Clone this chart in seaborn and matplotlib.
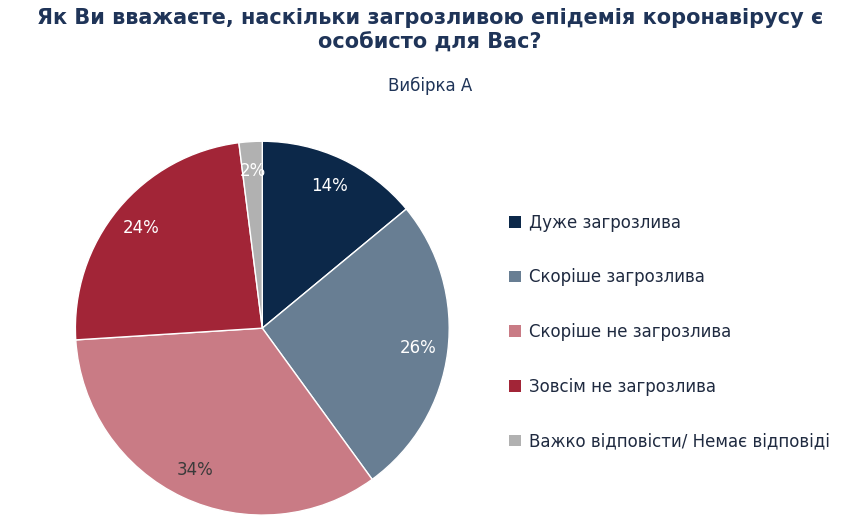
import matplotlib
matplotlib.use("Agg")
import matplotlib.pyplot as plt
import seaborn as sns
from matplotlib.patches import Patch

categories = ["Дуже загрозлива", "Скоріше загрозлива", "Скоріше не загрозлива",
              "Зовсім не загрозлива", "Важко відповісти/ Немає відповіді"]
values = [14, 26, 34, 24, 2]
labels = ["14%", "26%", "34%", "24%", "2%"]
colors = sns.color_palette(["#0c2849", "#687e93", "#c97b85", "#a22537", "#b1b1b1"])
label_colors = ["white", "white", "#3a3a3a", "white", "white"]

sns.set_theme(style="white", rc={"font.family": "DejaVu Sans"})
fig = plt.figure(figsize=(8.6, 5.31), dpi=100)
fig.text(0.5, 0.985, "Як Ви вважаєте, наскільки загрозливою епідемія коронавірусу є\nособисто для Вас?",
         ha="center", va="top", fontsize=15, fontweight="bold", color="#1f3458", linespacing=1.3)
fig.text(0.5, 0.838, "Вибірка А", ha="center", va="center", fontsize=12, color="#1f3458")

ax = fig.add_axes([0.305 - 0.2174, 0.382 - 0.352, 0.4348, 0.704])
wedges, texts = ax.pie(values, colors=colors, startangle=90, counterclock=False,
                       wedgeprops=dict(linewidth=1, edgecolor="white"),
                       labels=labels, labeldistance=0.84,
                       textprops=dict(fontsize=12))
for t, c in zip(texts, label_colors):
    t.set_color(c)
    t.set_ha("center")
ax.set_xlim(-1, 1)
ax.set_ylim(-1, 1)
ax.set_aspect("equal")

handles = [Patch(facecolor=c, edgecolor="none") for c in colors]
fig.legend(handles, categories, loc="center left", bbox_to_anchor=(0.575, 0.375),
           frameon=False, fontsize=12, handlelength=0.7, handleheight=0.7,
           labelspacing=2.2, handletextpad=0.5, labelcolor="#1f2a40")
fig.savefig("out.png", dpi=100)
